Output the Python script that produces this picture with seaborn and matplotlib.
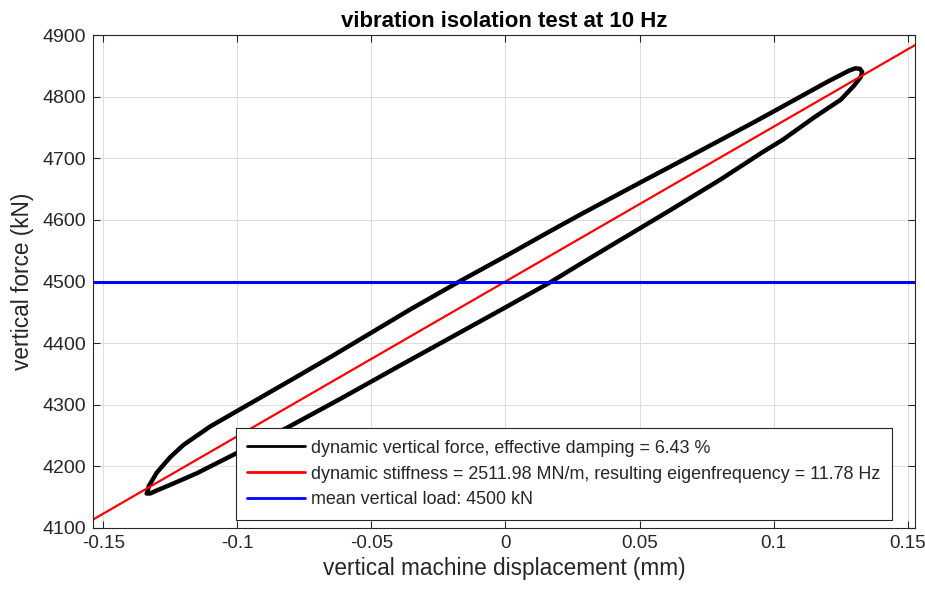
import matplotlib
matplotlib.use("Agg")
import matplotlib.pyplot as plt
import seaborn as sns
import numpy as np
import pandas as pd

# ---- data ----
upper_x = [-0.1335, -0.1330, -0.1300, -0.1250, -0.1200, -0.1100, -0.1000, -0.0900,
           -0.0800, -0.0650, -0.0500, -0.0350, -0.0172, 0.0000, 0.0172, 0.0285,
           0.0500, 0.0700, 0.0933, 0.1100, 0.1200, 0.1280, 0.1305, 0.1322, 0.1330]
upper_f = [4158, 4168, 4190, 4215, 4235, 4265, 4290, 4315,
           4340, 4378, 4417, 4456, 4500, 4541, 4583, 4610,
           4660, 4706, 4760, 4800, 4824, 4842, 4846, 4845, 4840]
lower_x = [0.1330, 0.1325, 0.1300, 0.1250, 0.1150, 0.1034, 0.0959, 0.0800,
           0.0600, 0.0400, 0.0285, 0.0172, 0.0000, -0.0200, -0.0400, -0.0614,
           -0.0813, -0.1000, -0.1150, -0.1250, -0.1300, -0.1325, -0.1338, -0.1335]
lower_f = [4840, 4832, 4818, 4795, 4766, 4730, 4710, 4665,
           4612, 4560, 4530, 4500, 4458, 4410, 4362, 4310,
           4263, 4222, 4189, 4170, 4161, 4156, 4156, 4158]

damping_pct = 6.43
stiffness = 2511.98      # MN/m == kN/mm
eigenfreq = 11.78
mean_load = 4500

x_ticks = [-0.15, -0.1, -0.05, 0, 0.05, 0.1, 0.15]
x_ticklabels = ["-0.15", "-0.1", "-0.05", "0", "0.05", "0.1", "0.15"]
y_ticks = [4100, 4200, 4300, 4400, 4500, 4600, 4700, 4800, 4900]

xlim = (-0.1538, 0.1527)
ylim = (4100, 4900)

# ---- build tables ----
loop = pd.DataFrame({
    "x": upper_x + lower_x,
    "F": upper_f + lower_f,
})

stiff_x = np.array(xlim)
stiff_line = pd.DataFrame({"x": stiff_x, "F": mean_load + stiffness * stiff_x})

sns.set_theme(style="whitegrid")
plt.rcParams["font.family"] = ["Liberation Sans", "DejaVu Sans"]

fig = plt.figure(figsize=(9.25, 5.91), dpi=100)
ax = fig.add_axes([93 / 925, 1 - 528 / 591, (915 - 93) / 925, (528 - 35) / 591])

sns.lineplot(data=loop, x="x", y="F", sort=False, estimator=None, color="black",
             linewidth=3.2, ax=ax,
             label=f"dynamic vertical force, effective damping = {damping_pct:.2f} %")
sns.lineplot(data=stiff_line, x="x", y="F", sort=False, estimator=None, color="red",
             linewidth=1.6, ax=ax,
             label=f"dynamic stiffness = {stiffness:.2f} MN/m, resulting eigenfrequency = {eigenfreq:.2f} Hz")
ax.axhline(mean_load, color="blue", linewidth=2.2,
           label=f"mean vertical load: {mean_load} kN")

ax.set_xlim(*xlim)
ax.set_ylim(*ylim)
ax.set_xticks(x_ticks)
ax.set_xticklabels(x_ticklabels)
ax.set_yticks(y_ticks)

ax.set_facecolor("white")
ax.grid(True, color="#dcdcdc", linewidth=0.7)
for s in ax.spines.values():
    s.set_visible(True)
    s.set_color("#262626")
    s.set_linewidth(0.8)

ax.tick_params(axis="both", which="both", direction="in", length=5, width=0.8,
               color="#262626", top=True, right=True, bottom=True, left=True,
               labelcolor="#262626", pad=5)
ax.tick_params(axis="y", labelsize=14)
ax.tick_params(axis="x", labelsize=13.5)

ax.set_xlabel("vertical machine displacement (mm)", fontsize=16.3, color="#262626", labelpad=4)
ax.set_ylabel("vertical force (kN)", fontsize=16.3, color="#262626", labelpad=6)
ax.set_title("vibration isolation test at 10 Hz", fontsize=16, fontweight="bold",
             color="black", pad=6)

leg = ax.legend(loc="lower right", bbox_to_anchor=(0.972, 0.016), fontsize=12.9,
                frameon=True, fancybox=False, framealpha=1, edgecolor="#262626",
                handlelength=3.2, borderpad=0.65, labelspacing=0.5, handletextpad=0.35,
                borderaxespad=0.0)
leg.get_frame().set_linewidth(0.8)
for h in leg.get_lines():
    h.set_linewidth(2.0)

fig.savefig("out.png", dpi=100)
